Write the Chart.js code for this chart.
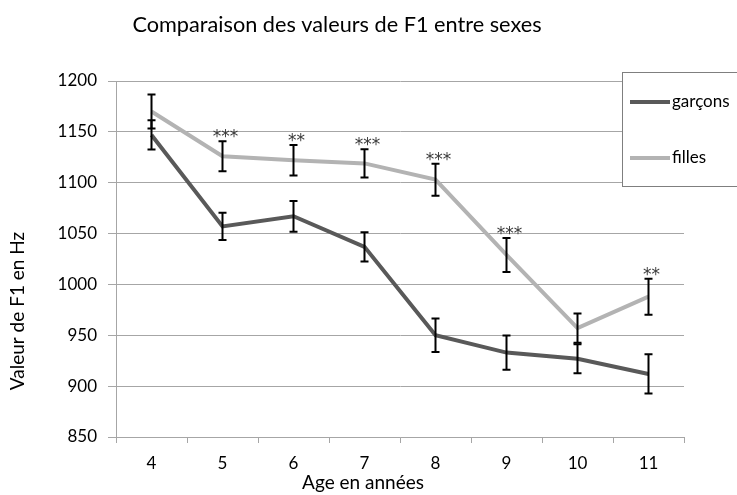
<!DOCTYPE html>
<html>
<head>
<meta charset="utf-8">
<script src="https://cdn.jsdelivr.net/npm/chart.js@4"></script>
<style>
  html, body { margin: 0; padding: 0; background: #fff; }
  #wrap { width: 737px; height: 495px; }
</style>
</head>
<body>
<div id="wrap"><canvas id="f1"></canvas></div>
<script>
var ages = ['4', '5', '6', '7', '8', '9', '10', '11'];
var garcons = [1147, 1057, 1067, 1037, 950, 933, 927, 912];
var filles = [1170, 1126, 1122, 1119, 1103, 1029, 957, 988];
var garconsErr = [14.4, 13.4, 15.1, 14.4, 16.4, 16.9, 14.3, 19.3];
var fillesErr = [16.7, 14.7, 15, 13.9, 15.7, 16.7, 14.4, 17.7];
var stars = ['', '***', '**', '***', '***', '***', '', '**'];
var yTicks = [850, 900, 950, 1000, 1050, 1100, 1150, 1200];

var fontFam = 'Lato, "Open Sans", sans-serif';
var gridGrey = '#a6a6a6';

// error bars + significance stars, drawn with the chart's own scales
var errorBars = {
    id: 'errorBars',
    afterDatasetsDraw: function (chart) {
        var c = chart.ctx;
        var x = chart.scales.x, y = chart.scales.y;
        var errs = [garconsErr, fillesErr];
        c.save();
        c.strokeStyle = '#000';
        c.lineWidth = 2;
        chart.data.datasets.forEach(function (ds, d) {
            ds.data.forEach(function (v, i) {
                var px = x.getPixelForValue(i);
                var top = y.getPixelForValue(v + errs[d][i]);
                var bot = y.getPixelForValue(v - errs[d][i]);
                c.beginPath();
                c.moveTo(px, top); c.lineTo(px, bot);
                c.moveTo(px - 4, top); c.lineTo(px + 4, top);
                c.moveTo(px - 4, bot); c.lineTo(px + 4, bot);
                c.stroke();
            });
        });
        c.fillStyle = '#3a3a3a';
        c.font = '17px "DejaVu Sans", sans-serif';
        c.textAlign = 'center';
        c.textBaseline = 'alphabetic';
        stars.forEach(function (s, i) {
            if (!s) return;
            var px = x.getPixelForValue(i);
            var top = y.getPixelForValue(filles[i] + fillesErr[i]);
            c.fillText(s, px + 3, top + 1);
        });
        c.restore();
    }
};

// title, axis titles and boxed legend laid out like the original sheet
var decor = {
    id: 'decor',
    afterDraw: function (chart) {
        var c = chart.ctx;
        c.save();
        c.fillStyle = '#000';
        c.textAlign = 'center';
        c.textBaseline = 'middle';
        c.font = '21.7px ' + fontFam;
        c.fillText('Comparaison des valeurs de F1 entre sexes', 337, 25);

        c.font = '19px ' + fontFam;
        c.fillText('Age en années', 363, 483);
        c.save();
        c.translate(18, 311);
        c.rotate(-Math.PI / 2);
        c.fillText('Valeur de F1 en Hz', 0, 0);
        c.restore();

        c.fillStyle = '#fff';
        c.fillRect(622, 72, 120, 114);
        c.strokeStyle = '#7f7f7f';
        c.lineWidth = 1;
        c.strokeRect(622.5, 72.5, 120, 114);

        var items = [['garçons', '#595959', 102], ['filles', '#b3b3b3', 158]];
        c.font = '17px ' + fontFam;
        c.textAlign = 'left';
        items.forEach(function (it) {
            c.strokeStyle = it[1];
            c.lineWidth = 4;
            c.beginPath();
            c.moveTo(630, it[2]); c.lineTo(670, it[2]);
            c.stroke();
            c.fillStyle = '#000';
            c.fillText(it[0], 672, it[2]);
        });
        c.restore();
    }
};

var ctx = document.getElementById('f1');
var f1chart = new Chart(ctx, {
    type: 'line',
    data: {
        labels: ages,
        datasets: [{
            label: 'garçons',
            data: garcons,
            borderColor: '#595959',
            borderWidth: 4,
            pointRadius: 0,
            tension: 0
        }, {
            label: 'filles',
            data: filles,
            borderColor: '#b3b3b3',
            borderWidth: 4,
            pointRadius: 0,
            tension: 0
        }]
    },
    plugins: [errorBars, decor],
    options: {
        responsive: true,
        maintainAspectRatio: false,
        animation: false,
        layout: {
            padding: { top: 81, right: 53, bottom: 0, left: 0 }
        },
        plugins: {
            legend: { display: false },
            title: { display: false },
            tooltip: { enabled: false }
        },
        scales: {
            x: {
                offset: true,
                afterFit: function (s) { s.height = 58; },
                grid: {
                    offset: true,
                    drawOnChartArea: false,
                    drawTicks: true,
                    tickLength: 6,
                    color: gridGrey
                },
                border: { color: gridGrey },
                ticks: {
                    color: '#000',
                    padding: 10,
                    font: { family: fontFam, size: 17 }
                }
            },
            y: {
                min: 850,
                max: 1200,
                afterFit: function (s) { s.width = 116; },
                afterBuildTicks: function (s) {
                    s.ticks = yTicks.map(function (v) { return { value: v }; });
                },
                grid: {
                    color: gridGrey,
                    tickLength: 8
                },
                border: { color: gridGrey },
                ticks: {
                    color: '#000',
                    padding: 11,
                    font: { family: fontFam, size: 17 },
                    callback: function (v) { return String(v); }
                }
            }
        }
    }
});
</script>
</body>
</html>
